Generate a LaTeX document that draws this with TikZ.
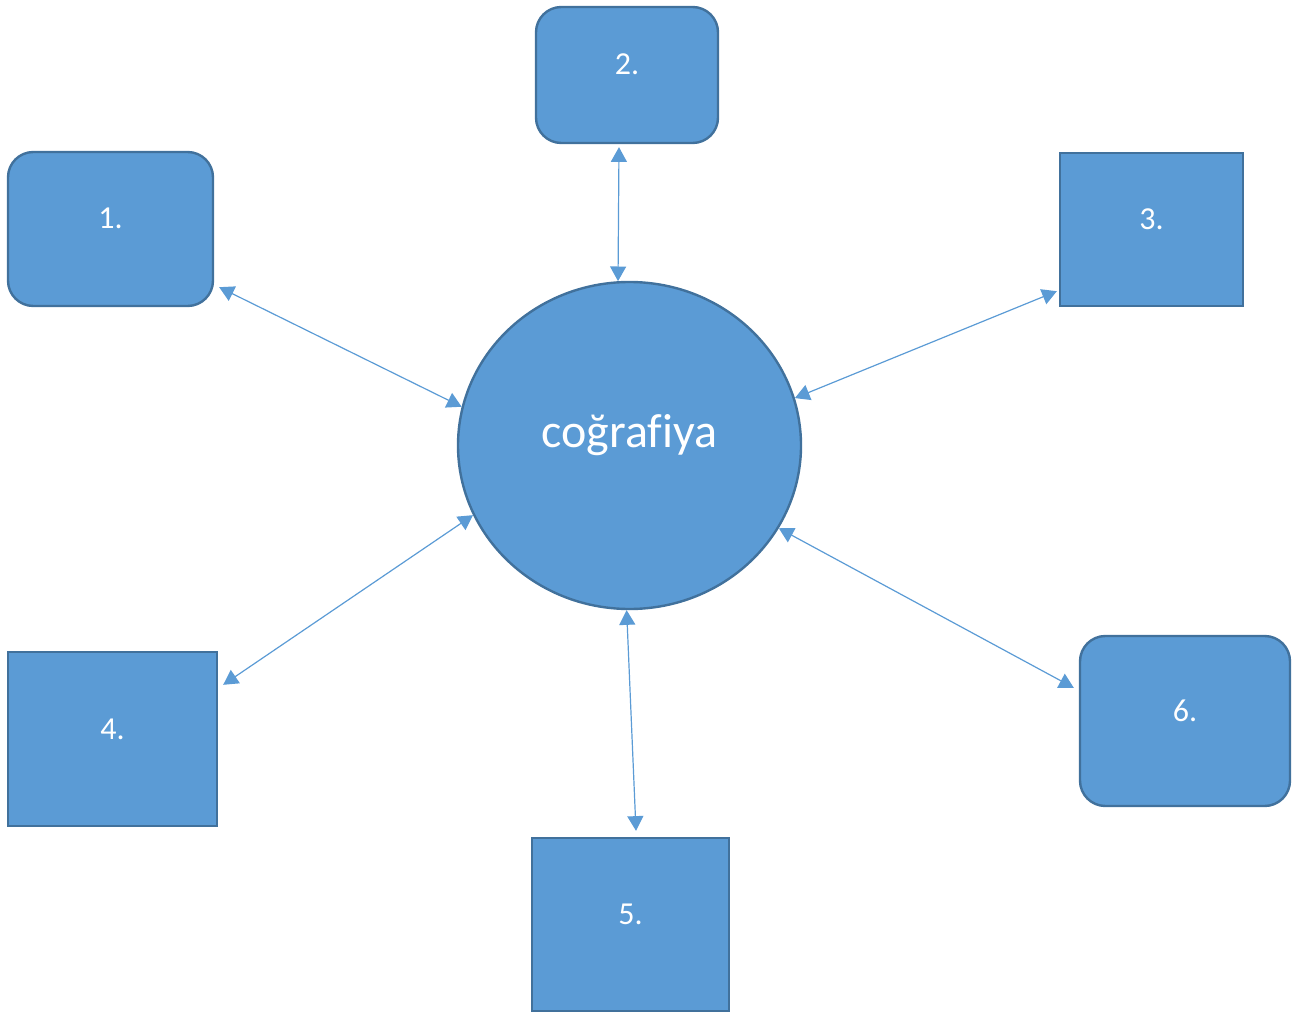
\documentclass[tikz,border=0pt]{standalone}
\usepackage{fontspec}
\setmainfont{Carlito}[Ligatures=NoCommon]
\usetikzlibrary{positioning,calc,shapes.geometric,arrows.meta}
\definecolor{boxfill}{HTML}{5B9BD5}
\definecolor{boxedge}{HTML}{41719C}
\tikzstyle{block} = [draw=boxedge, fill=boxfill, line width=1.8pt, rectangle, inner sep=0pt, text=white, font=\fontsize{24}{28}\selectfont, text height=15pt, text depth=15pt]
\tikzstyle{rblock} = [block, rounded corners=19pt]
\tikzstyle{topic} = [draw=boxedge, fill=boxfill, line width=1.8pt, ellipse, inner sep=0pt, text=white, font=\fontsize{36}{42}\selectfont, text height=16.5pt, text depth=14.25pt]
\tikzstyle{link} = [{Triangle[length=11pt,width=12pt]}-{Triangle[length=11pt,width=12pt]}, draw=boxfill, line width=0.9pt]

\begin{document}
\begin{tikzpicture}[x=0.75pt, y=-0.75pt]
		\useasboundingbox (0,0) rectangle (1302,1012);
		% centre
		\node (geo) [topic, minimum width=257.25pt, minimum height=245.25pt] at (629.5,445.5) {coğrafiya};
		% boxes
		\node (b1) [rblock, minimum width=153.75pt, minimum height=115.5pt] at (110.5,229) {1.};
		\node (b2) [rblock, minimum width=136.5pt, minimum height=102pt] at (627,75) {2.};
		\node (b3) [block, minimum width=137.25pt, minimum height=114.75pt] at (1151.5,229.5) {3.};
		\node (b4) [block, minimum width=156.75pt, minimum height=130.5pt] at (112.5,739) {4.};
		\node (b5) [block, minimum width=147.75pt, minimum height=129.75pt] at (630.5,924.5) {5.};
		\node (b6) [rblock, minimum width=157.5pt, minimum height=127.5pt] at (1185,721) {6.};
		% links
		\draw[link] ([shift={(5,-20)}]b1.south east) -- (geo.167.7);
		\draw[link] ([shift={(-8,3)}]b2.south) -- (geo.94.1);
		\draw[link] ([shift={(-2,-16)}]b3.south west) -- (geo.16.4);
		\draw[link] ([shift={(5,34)}]b4.north east) -- (geo.204.5);
		\draw[link] ([shift={(5.5,-6)}]b5.north) -- (geo.269.5);
		\draw[link] ([shift={(-5,53)}]b6.north west) -- (geo.331.5);
\end{tikzpicture}
\end{document}
